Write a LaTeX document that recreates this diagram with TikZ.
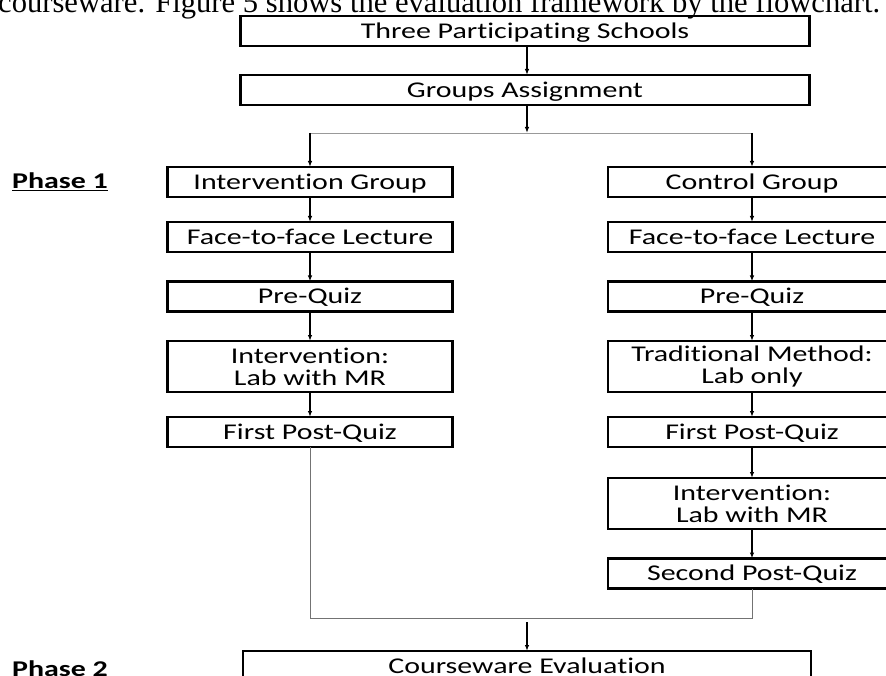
\documentclass[tikz,border=0pt]{standalone}
\usepackage{fontspec}
\setmainfont{Carlito}[FakeStretch=1.33, Ligatures=NoCommon]
\newfontfamily\bodyfont{Liberation Serif}
\usetikzlibrary{arrows.meta}

\tikzset{
  stagebase/.style={draw, line width=2.2pt, minimum width=285pt, inner sep=0pt, outer sep=0pt,
    font=\fontsize{22.5}{22}\selectfont},
  stage/.style={stagebase, minimum height=30pt, text height=14.5pt, text depth=0pt},
  stagetwo/.style={stagebase, minimum height=51pt, align=center},
  wide/.style={stage, minimum width=569pt},
  phase/.style={anchor=west, inner sep=0pt, font=\fontsize{22.5}{22}\selectfont\bfseries},
  flow/.style={-{Latex[length=6pt,width=4.5pt]}, line width=1.5pt},
  link/.style={line width=0.8pt, draw=black!55}
}

\begin{document}
\begin{tikzpicture}[x=1pt,y=-1pt]
  \useasboundingbox (0,0) rectangle (886,676);
  \clip (0,0) rectangle (886,676);

  % running text above the figure
  \node[anchor=base west, inner sep=0pt, font=\bodyfont\fontsize{30.6}{31}\selectfont] (bodytext) at (-2,13)
    {courseware. Figure 5 shows the evaluation framework by the flowchart.};

  \node[wide] (schools) at (525,31) {Three Participating Schools};
  \node[wide] (assign) at (525,90) {Groups Assignment};

  \node[phase] (phaseone) at (12,182) {\underline{Phase 1}};
  \node[phase] (phasetwo) at (12,669) {Phase 2};

  % left column
  \node[stage] (groupL) at (310,182) {Intervention Group};
  \node[stage] (lectL) at (310,237) {Face-to-face Lecture};
  \node[stage] (preL) at (310,296.5) {Pre-Quiz};
  \node[stagetwo] (labL) at (310,366.5) {Intervention:\\Lab with MR};
  \node[stage] (postL) at (310,432) {First Post-Quiz};

  % right column
  \node[stage, minimum width=288pt] (groupR) at (752,182) {Control Group};
  \node[stage, minimum width=288pt] (lectR) at (752,237) {Face-to-face Lecture};
  \node[stage, minimum width=288pt] (preR) at (752,296.5) {Pre-Quiz};
  \node[stagetwo, minimum width=288pt] (tradR) at (752,366.5) {Traditional Method:\\Lab only};
  \node[stage, minimum width=288pt] (postR) at (752,432) {First Post-Quiz};
  \node[stagetwo, minimum width=288pt] (labR) at (752,503.5) {Intervention:\\Lab with MR};
  \node[stage, minimum width=288pt] (secondR) at (752,573.5) {Second Post-Quiz};

  \node[wide, minimum width=568pt] (evaluation) at (527,666) {Courseware Evaluation};

  \coordinate (split) at (527,133);
  \coordinate (merge) at (527,618);

  \draw[flow] (schools.south -| split) -- (assign.north -| split);
  \draw[link, draw=black!40] (groupL |- split) -- (groupR |- split);
  \draw[flow] (assign.south -| split) -- (split);
  \draw[flow] (groupL |- split) -- (groupL);
  \draw[flow] (groupR |- split) -- (groupR);

  \draw[flow] (groupL) -- (lectL);
  \draw[flow] (lectL) -- (preL);
  \draw[flow] (preL) -- (labL);
  \draw[flow] (labL) -- (postL);

  \draw[flow] (groupR) -- (lectR);
  \draw[flow] (lectR) -- (preR);
  \draw[flow] (preR) -- (tradR);
  \draw[flow] (tradR) -- (postR);
  \draw[flow] (postR) -- (labR);
  \draw[flow] (labR) -- (secondR);

  \draw[link] (postL.south) -- (postL.south |- merge) -- (secondR.south |- merge) -- (secondR.south);
  \draw[flow] ([yshift=-4pt]merge) -- (evaluation);
\end{tikzpicture}
\end{document}
